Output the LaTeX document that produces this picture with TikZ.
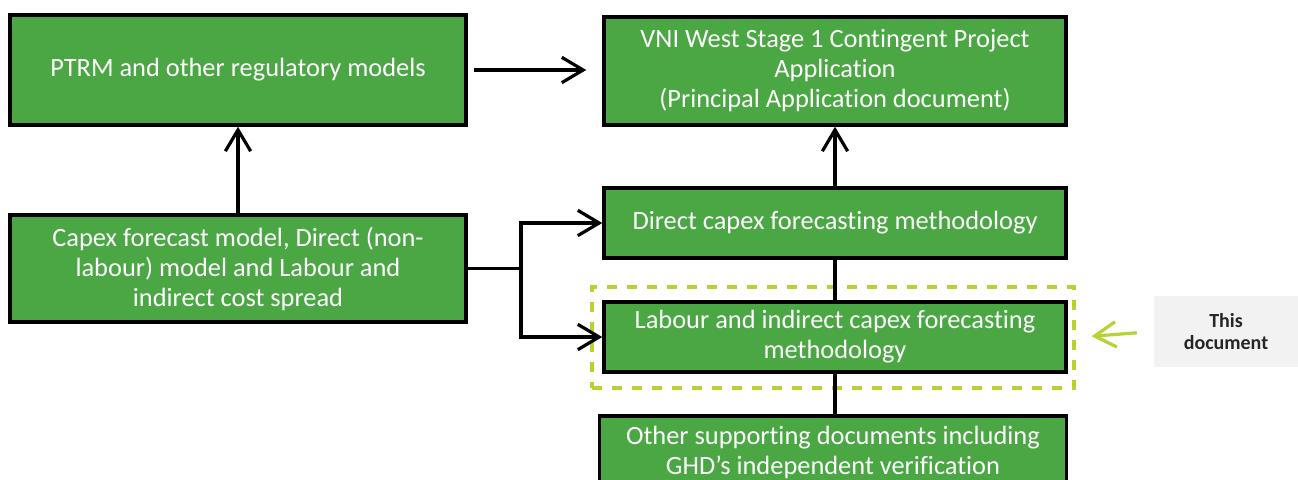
\documentclass[tikz,border=0pt]{standalone}
\usepackage{fontspec}
\setmainfont{Carlito}[Ligatures=NoCommon]
\usepackage{xcolor}
\usetikzlibrary{arrows.meta}
\usetikzlibrary{positioning}
\definecolor{boxgreen}{RGB}{74,167,68}
\definecolor{limegreen}{RGB}{180,212,50}
\definecolor{notegray}{RGB}{242,242,242}

\begin{document}
\begin{tikzpicture}[x=0.75pt, y=-0.75pt, line cap=butt, line join=miter,
    >={Straight Barb[length=16pt, width=19pt, line width=2.4pt]},
    greenbox/.style={draw=black, line width=2.6pt, fill=boxgreen, text=white,
      align=center, inner sep=0pt, font=\fontsize{19.8}{22.5}\selectfont},
    link/.style={line width=2.4pt},
    focusbox/.style={draw=limegreen, line width=2.4pt, dash pattern=on 7.5pt off 7.5pt,
      inner sep=0pt},
    notebox/.style={fill=notegray, align=center, inner sep=0pt,
      font=\fontsize{15}{16.5}\selectfont\bfseries, text=black!85}]
  \useasboundingbox (0,0) rectangle (1298,479);
  %--- Left column
    \node[greenbox, minimum width=342pt, minimum height=82.5pt] (ptrm) at (238,70)
      {PTRM and other regulatory models};
    \node[greenbox, minimum width=342pt, minimum height=80.25pt] (capex) at (238,268.5)
      {Capex forecast model, Direct (non-\\labour) model and Labour and\\indirect cost spread};
  %--- Right column
    \node[greenbox, minimum width=346.5pt, minimum height=81pt] (cpa) at (835,71)
      {VNI West Stage 1 Contingent Project\\Application\\(Principal Application document)};
    \node[greenbox, minimum width=346.5pt, minimum height=52.5pt] (direct) at (835,223)
      {Direct capex forecasting methodology};
    \node[greenbox, minimum width=346.5pt, minimum height=52.5pt] (labour) at (835,337)
      {Labour and indirect capex forecasting\\methodology};
    \node[greenbox, minimum width=350pt, minimum height=54pt] (other) at (833,452)
      {Other supporting documents including\\GHD’s independent verification};
  %--- Highlight and note
    \node[focusbox, minimum width=361.5pt, minimum height=75.75pt] (focus) at (833,337.5) {};
    \node[notebox, minimum width=108pt, minimum height=53.25pt] (note) at (1226,331.5)
      {This\\document};
    \draw[->, link, draw=limegreen, shorten <=12.75pt, shorten >=12pt] (note.west) -- (focus.east);
  %--- Connectors
    \draw[->, link, shorten <=4.5pt, shorten >=12pt] (ptrm.east) -- (cpa.west |- ptrm.east);
    \draw[->, link] (capex.north) -- (ptrm.south);
    \draw[->, link] (direct.north) -- (cpa.south);
    \draw[link] (labour.north) -- (direct.south);
    \draw[link] (labour.south) -- (labour.south |- other.north);
    \coordinate (split) at (521,268.5);
    \draw[link] (capex.east) -- (split);
    \draw[->, link] (split) |- (direct.west);
    \draw[->, link] (split) |- (labour.west);
\end{tikzpicture}
\end{document}
